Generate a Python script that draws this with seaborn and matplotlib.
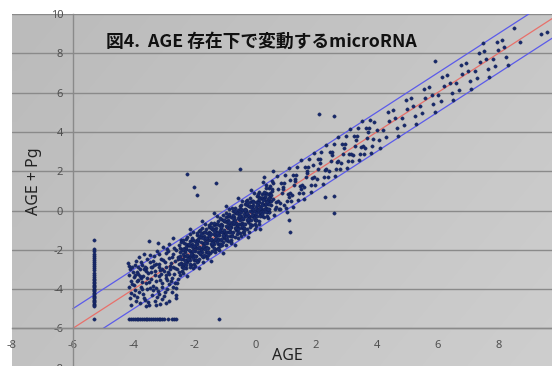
import numpy as np
import pandas as pd
import matplotlib
matplotlib.use("Agg")
import matplotlib.pyplot as plt
from matplotlib.colors import LinearSegmentedColormap
import seaborn as sns

# ---------------- data ----------------
title = "図4.  AGE 存在下で変動するmicroRNA"
x_label = "AGE"
y_label = "AGE + Pg"
x_ticks = [-8, -6, -4, -2, 0, 2, 4, 6, 8]
y_ticks = [-8, -6, -4, -2, 0, 2, 4, 6, 8, 10]

# reference lines (centre line and +/-1 band)
fit_x = [-6, 10]
fit_y = [-6, 10]
upper_x = [-6, 9]
upper_y = [-5, 10]
lower_x = [-5, 10]
lower_y = [-6, 9]

# left part of the cloud
left_x = [-4.18,-4.15,-4.12,-4.16,-4.1,-4.14,-4.08,-4.12,-4.1,-4.05,-4.0,-3.98,-3.95,-3.92,-3.9,-3.88,-3.85,-3.82,-3.8,-3.78,
          -3.75,-3.72,-3.7,-3.68,-3.65,-3.62,-3.6,-3.58,-3.55,-3.52,-3.5,-3.48,-3.45,-3.42,-3.4,-3.38,-3.35,-3.32,-3.3,-3.28,
          -3.25,-3.22,-3.2,-3.18,-3.15,-3.12,-3.1,-3.08,-3.05,-3.02,-3.0,-2.98,-2.95,-2.92,-2.9,-2.88,-2.85,-2.82,-2.8,-2.78,
          -2.75,-2.72,-2.7,-2.68,-2.65,-2.62,-2.6,-2.58,-2.55,-2.52,-2.5,-3.9,-3.6,-3.3,-3.0,-2.7,-3.75,-3.45,-3.15,-2.85,
          -2.55,-4.02,-3.72,-3.42,-3.12,-2.82,-2.52,-3.55,-3.25,-2.95,-2.65,-3.85,-3.15,-2.75,-3.05,-2.6,-3.95,-3.35,-2.9,-2.7,
          -3.65,-3.2,-2.9,
          -4.05,-3.97,-3.93,-3.87,-3.83,-3.77,-3.73,-3.67,-3.63,-3.57,-3.53,-3.47,-3.43,-3.37,-3.33,-3.27,-3.23,-3.17,-3.13,-3.07,
          -3.03,-2.97,-2.93,-2.87,-2.83,-2.77,-2.73,-2.67,-2.63,-2.57,-2.53,-3.5,-3.8,-3.1,-2.8,-4.0,-3.6,-3.25,-2.95,-2.6]
left_y = [-2.65,-2.8,-3.0,-3.3,-3.6,-3.9,-4.2,-4.45,-4.8,-2.9,-3.4,-3.8,-4.05,-2.55,-3.15,-4.4,-3.55,-2.35,-4.7,-3.0,
          -3.9,-2.75,-4.25,-3.35,-2.2,-4.55,-3.7,-2.95,-4.0,-3.2,-1.55,-4.8,-2.6,-3.5,-4.3,-2.9,-3.85,-2.3,-4.6,-3.1,
          -3.6,-2.05,-4.1,-2.7,-3.35,-4.75,-2.45,-3.9,-3.0,-1.85,-4.35,-2.6,-3.45,-2.15,-4.0,-3.15,-1.7,-4.6,-2.8,-3.6,
          -2.35,-3.9,-1.4,-3.25,-2.55,-4.3,-2.0,-3.0,-3.5,-1.75,-2.7,-3.6,-3.1,-3.3,-3.1,-2.9,-3.45,-3.95,-2.9,-2.4,
          -2.35,-3.15,-4.0,-2.85,-3.55,-3.25,-3.15,-2.45,-2.7,-2.85,-3.7,-2.9,-4.25,-4.15,-4.5,-3.95,-3.3,-2.55,-3.55,-2.2,
          -3.0,-1.65,-1.95,
          -3.75,-2.75,-4.6,-3.25,-4.15,-2.6,-3.65,-4.45,-2.85,-3.45,-4.65,-2.25,-3.15,-4.05,-2.75,-3.95,-4.4,-2.2,-3.05,-3.7,
          -2.5,-4.15,-3.3,-2.05,-3.75,-2.65,-3.45,-1.9,-2.95,-3.7,-2.45,-3.65,-3.35,-3.25,-3.0,-4.3,-4.85,-4.8,-4.7,-4.45]

# main body of the cloud
core_x = [-2.49,-2.43,-2.46,-2.41,-2.48,-2.42,-2.45, -2.39,-2.33,-2.36,-2.31,-2.38,-2.32,-2.35,
          -2.29,-2.23,-2.26,-2.21,-2.28,-2.22,-2.25, -2.19,-2.13,-2.16,-2.11,-2.18,-2.12,-2.15,
          -2.09,-2.03,-2.06,-2.01,-2.08,-2.02,-2.05, -1.99,-1.93,-1.96,-1.91,-1.98,-1.92,-1.95,
          -1.89,-1.83,-1.86,-1.81,-1.88,-1.82,-1.85, -1.79,-1.73,-1.76,-1.71,-1.78,-1.72,-1.75,
          -1.69,-1.63,-1.66,-1.61,-1.68,-1.62,-1.65, -1.59,-1.53,-1.56,-1.51,-1.58,-1.52,-1.55,
          -1.49,-1.43,-1.46,-1.41,-1.48,-1.42,-1.45, -1.39,-1.33,-1.36,-1.31,-1.38,-1.32,-1.35,
          -1.29,-1.23,-1.26,-1.21,-1.28,-1.22,-1.25, -1.19,-1.13,-1.16,-1.11,-1.18,-1.12,-1.15,
          -1.09,-1.03,-1.06,-1.01,-1.08,-1.02,-1.05, -0.99,-0.93,-0.96,-0.91,-0.98,-0.92,-0.95,
          -0.89,-0.83,-0.86,-0.81,-0.88,-0.82,-0.85, -0.79,-0.73,-0.76,-0.71,-0.78,-0.72,-0.75,
          -0.69,-0.63,-0.66,-0.61,-0.68,-0.62,-0.65, -0.59,-0.53,-0.56,-0.51,-0.58,-0.52,-0.55,
          -0.49,-0.43,-0.46,-0.41,-0.48,-0.42,-0.45, -0.39,-0.33,-0.36,-0.31,-0.38,-0.32,-0.35,
          -0.29,-0.23,-0.26,-0.21,-0.28,-0.22,-0.25, -0.19,-0.13,-0.16,-0.11,-0.18,-0.12,-0.15,
          -0.09,-0.03,-0.06,-0.01,-0.08,-0.02,-0.05, 0.01,0.07,0.04,0.09,0.02,0.08,0.05,
          0.11,0.17,0.14,0.19,0.12,0.18,0.15, 0.21,0.27,0.24,0.29,0.22,0.28,0.25,
          0.31,0.37,0.34,0.39,0.32,0.38,0.35, 0.41,0.47,0.44,0.49,0.42,0.48,0.45]
core_y = [-1.90,-2.65,-2.30,-3.10,-2.10,-2.90,-1.50, -2.45,-1.65,-2.90,-2.10,-3.20,-1.90,-2.30,
          -1.95,-2.60,-1.45,-2.30,-2.95,-1.75,-3.35, -2.40,-2.05,-1.55,-2.75,-1.75,-2.30,-0.95,
          -1.50,-2.25,-1.90,-2.70,-1.70,-2.50,-1.10, -2.05,-1.25,-2.50,-1.70,-2.80,-1.50,-1.90,
          -1.55,-2.20,-1.05,-1.90,-2.55,-1.35,-2.95, -2.00,-1.65,-1.15,-2.35,-1.35,-1.90,-0.55,
          -1.10,-1.85,-1.50,-2.30,-1.30,-2.10,-0.70, -1.65,-0.85,-2.10,-1.30,-2.40,-1.10,-1.50,
          -1.15,-1.80,-0.65,-1.50,-2.15,-0.95,-2.55, -1.60,-1.25,-0.75,-1.95,-0.95,-1.50,-0.15,
          -0.70,-1.45,-1.10,-1.90,-0.90,-1.70,-0.30, -1.25,-0.45,-1.70,-0.90,-2.00,-0.70,-1.10,
          -0.75,-1.40,-0.25,-1.10,-1.75,-0.55,-2.15, -1.20,-0.85,-0.35,-1.55,-0.55,-1.10,0.25,
          -0.30,-1.05,-0.70,-1.50,-0.50,-1.30,0.10, -0.85,-0.05,-1.30,-0.50,-1.60,-0.30,-0.70,
          -0.35,-1.00,0.15,-0.70,-1.35,-0.15,-1.75, -0.80,-0.45,0.05,-1.15,-0.15,-0.70,0.65,
          0.10,-0.65,-0.30,-1.10,-0.10,-0.90,0.50, -0.45,0.35,-0.90,-0.10,-1.20,0.10,-0.30,
          0.05,-0.60,0.55,-0.30,-0.95,0.25,-1.35, -0.40,-0.05,0.45,-0.75,0.25,-0.30,1.05,
          0.50,-0.25,0.10,-0.70,0.30,-0.50,0.90, -0.05,0.75,-0.50,0.30,-0.80,0.50,0.10,
          0.45,-0.20,0.95,0.10,-0.55,0.65,-0.95, 0.00,0.35,0.85,-0.35,0.65,0.10,1.45,
          0.90,0.15,0.50,-0.30,0.70,-0.10,1.30, 0.35,1.15,-0.10,0.70,-0.40,0.90,0.50]

# densest strip along the centre line
dense_x = [-2.37,-2.42,-2.39,-2.44,-2.36, -2.27,-2.32,-2.29,-2.34,-2.26, -2.17,-2.22,-2.19,-2.24,-2.16,
           -2.07,-2.12,-2.09,-2.14,-2.06, -1.97,-2.02,-1.99,-2.04,-1.96, -1.87,-1.92,-1.89,-1.94,-1.86,
           -1.77,-1.82,-1.79,-1.84,-1.76, -1.67,-1.72,-1.69,-1.74,-1.66, -1.57,-1.62,-1.59,-1.64,-1.56,
           -1.47,-1.52,-1.49,-1.54,-1.46, -1.37,-1.42,-1.39,-1.44,-1.36, -1.27,-1.32,-1.29,-1.34,-1.26,
           -1.17,-1.22,-1.19,-1.24,-1.16, -1.07,-1.12,-1.09,-1.14,-1.06, -0.97,-1.02,-0.99,-1.04,-0.96,
           -0.87,-0.92,-0.89,-0.94,-0.86, -0.77,-0.82,-0.79,-0.84,-0.76, -0.67,-0.72,-0.69,-0.74,-0.66,
           -0.57,-0.62,-0.59,-0.64,-0.56, -0.47,-0.52,-0.49,-0.54,-0.46, -0.37,-0.42,-0.39,-0.44,-0.36,
           -0.27,-0.32,-0.29,-0.34,-0.26, -0.17,-0.22,-0.19,-0.24,-0.16, -0.07,-0.12,-0.09,-0.14,-0.06,
           0.03,-0.02,0.01,-0.04,0.04, 0.13,0.08,0.11,0.06,0.14, 0.23,0.18,0.21,0.16,0.24,
           0.33,0.28,0.31,0.26,0.34, 0.43,0.38,0.41,0.36,0.44, 0.53,0.48,0.51,0.46,0.54]
dense_y = [-2.20,-2.70,-1.95,-2.45,-2.90, -2.50,-2.00,-2.30,-2.70,-1.70, -2.00,-2.50,-1.75,-2.25,-2.70,
           -2.30,-1.80,-2.10,-2.50,-1.50, -1.80,-2.30,-1.55,-2.05,-2.50, -2.10,-1.60,-1.90,-2.30,-1.30,
           -1.60,-2.10,-1.35,-1.85,-2.30, -1.90,-1.40,-1.70,-2.10,-1.10, -1.40,-1.90,-1.15,-1.65,-2.10,
           -1.70,-1.20,-1.50,-1.90,-0.90, -1.20,-1.70,-0.95,-1.45,-1.90, -1.50,-1.00,-1.30,-1.70,-0.70,
           -1.00,-1.50,-0.75,-1.25,-1.70, -1.30,-0.80,-1.10,-1.50,-0.50, -0.80,-1.30,-0.55,-1.05,-1.50,
           -1.10,-0.60,-0.90,-1.30,-0.30, -0.60,-1.10,-0.35,-0.85,-1.30, -0.90,-0.40,-0.70,-1.10,-0.10,
           -0.40,-0.90,-0.15,-0.65,-1.10, -0.70,-0.20,-0.50,-0.90,0.10, -0.20,-0.70,0.05,-0.45,-0.90,
           -0.50,0.00,-0.30,-0.70,0.30, 0.00,-0.50,0.25,-0.25,-0.70, -0.30,0.20,-0.10,-0.50,0.50,
           0.20,-0.30,0.45,-0.05,-0.50, -0.10,0.40,0.10,-0.30,0.70, 0.40,-0.10,0.65,0.15,-0.30,
           0.10,0.60,0.30,-0.10,0.90, 0.60,0.10,0.85,0.35,-0.10, 0.30,0.80,0.50,0.10,1.10]

# further scattered points in the main body
extra_x = [-2.43,-2.47,-2.41,-2.46, -2.33,-2.37,-2.31,-2.36, -2.23,-2.27,-2.21,-2.26, -2.13,-2.17,-2.11,-2.16,
           -2.03,-2.07,-2.01,-2.06, -1.93,-1.97,-1.91,-1.96, -1.83,-1.87,-1.81,-1.86, -1.73,-1.77,-1.71,-1.76,
           -1.63,-1.67,-1.61,-1.66, -1.53,-1.57,-1.51,-1.56, -1.43,-1.47,-1.41,-1.46, -1.33,-1.37,-1.31,-1.36,
           -1.23,-1.27,-1.21,-1.26, -1.13,-1.17,-1.11,-1.16, -1.03,-1.07,-1.01,-1.06, -0.93,-0.97,-0.91,-0.96,
           -0.83,-0.87,-0.81,-0.86, -0.73,-0.77,-0.71,-0.76, -0.63,-0.67,-0.61,-0.66, -0.53,-0.57,-0.51,-0.56,
           -0.43,-0.47,-0.41,-0.46, -0.33,-0.37,-0.31,-0.36, -0.23,-0.27,-0.21,-0.26, -0.13,-0.17,-0.11,-0.16,
           -0.03,-0.07,-0.01,-0.06, 0.07,0.03,0.09,0.04, 0.17,0.13,0.19,0.14, 0.27,0.23,0.29,0.24,
           0.37,0.33,0.39,0.34, 0.47,0.43,0.49,0.44]
extra_y = [-1.62,-3.28,-2.02,-2.71, -2.93,-1.48,-2.57,-1.96, -1.33,-2.77,-2.48,-1.87, -2.86,-1.68,-2.19,-1.21,
           -2.41,-1.38,-1.83,-2.92, -1.12,-2.33,-2.62,-1.72, -2.18,-1.46,-0.98,-2.47, -2.61,-1.22,-1.79,-0.88,
           -1.39,-2.26,-0.93,-1.97, -0.72,-1.91,-1.28,-2.27, -1.67,-0.84,-2.06,-1.19, -2.12,-0.62,-1.44,-1.03,
           -0.53,-1.58,-1.97,-1.14, -1.46,-0.36,-0.83,-1.81, -0.48,-1.62,-0.97,-1.27, -1.43,-0.13,-0.66,-1.78,
           -0.91,-0.19,-1.63,-0.57, -0.24,-1.17,-0.61,0.12, -0.87,-0.03,-1.22,-0.48, -0.27,-1.38,0.21,-0.93,
           -0.78,0.26,-0.36,-1.29, 0.02,-0.67,0.48,-1.04, -0.41,0.37,-1.08,-0.12, 0.18,-0.86,-0.22,0.63,
           -0.37,0.42,-0.94,0.07, 0.28,-0.47,0.86,-0.14, -0.29,0.58,0.22,-0.71, 0.53,-0.18,0.96,0.27,
           -0.07,0.72,0.41,1.12, 0.64,0.08,1.27,0.31]

# middle part of the band
mid_x = [0.54,0.65,0.58,0.68,0.52,0.62, 0.74,0.85,0.78,0.88,0.72,0.82, 0.94,1.05,0.98,1.08,0.92,1.02,
         1.14,1.25,1.18,1.28,1.12,1.22, 1.34,1.45,1.38,1.48,1.32,1.42, 1.54,1.65,1.58,1.68,1.52,1.62,
         1.74,1.85,1.78,1.88,1.72,1.82, 1.94,2.05,1.98,2.08,1.92,2.02, 2.14,2.25,2.18,2.28,2.12,2.22,
         2.34,2.45,2.38,2.48,2.32,2.42, 2.54,2.65,2.58,2.68,2.52,2.62, 2.74,2.85,2.78,2.88,2.72,2.82,
         2.94,3.05,2.98,3.08,2.92,3.02, 3.14,3.25,3.18,3.28,3.12,3.22, 3.34,3.45,3.38,3.48,3.32,3.42,
         3.54,3.65,3.58,3.68,3.52,3.62, 3.74,3.85,3.78,3.88,3.72,3.82,
         0.7,0.9,1.1,1.3,0.6,0.95,1.15,1.5,1.7,0.75,1.05,0.55,1.25,1.9,1.6]
mid_y = [1.00,0.10,1.40,0.45,0.80,-0.25, 0.50,1.40,0.10,0.90,1.75,0.40, 1.40,0.50,1.80,0.85,1.20,0.15,
         0.90,1.80,0.50,1.30,2.15,0.80, 1.80,0.90,2.20,1.25,1.60,0.55, 1.30,2.20,0.90,1.70,2.55,1.20,
         2.20,1.30,2.60,1.65,2.00,0.95, 1.70,2.60,1.30,2.10,2.95,1.60, 2.60,1.70,3.00,2.05,2.40,1.35,
         2.10,3.00,1.70,2.50,3.35,2.00, 3.00,2.10,3.40,2.45,2.80,1.75, 2.50,3.40,2.10,2.90,3.75,2.40,
         3.40,2.50,3.80,2.85,3.20,2.15, 2.90,3.80,2.50,3.30,4.15,2.80, 3.80,2.90,4.20,3.25,3.60,2.55,
         3.30,4.20,2.90,3.70,4.55,3.20, 4.20,3.30,4.60,3.65,4.00,2.95,
         0.2,1.1,0.7,1.5,0.6,0.3,1.55,1.1,1.9,1.1,-0.1,1.5,0.2,2.3,0.6]

# upper part of the band
upper_pts_x = [3.92,4.06,4.00,4.10, 4.22,4.36,4.30,4.40, 4.52,4.66,4.60,4.70, 4.82,4.96,4.90,5.00,
               5.12,5.26,5.20,5.30, 5.42,5.56,5.50,5.60, 5.72,5.86,5.80,5.90, 6.02,6.16,6.10,6.20,
               6.32,6.46,6.40,6.50, 6.62,6.76,6.70,6.80, 6.92,7.06,7.00,7.10, 7.22,7.36,7.30,7.40,
               7.52,7.66,7.60,7.70, 7.82,7.96,7.90,8.00, 8.12,8.26,8.20,8.30]
upper_pts_y = [4.50,3.60,4.10,3.20, 4.10,5.00,3.75,4.55, 5.10,4.20,4.70,3.80, 4.70,5.60,4.35,5.15,
               5.70,4.80,5.30,4.40, 5.30,6.20,4.95,5.75, 6.30,5.40,5.90,5.00, 5.90,6.80,5.55,6.35,
               6.90,6.00,6.50,5.60, 6.50,7.40,6.15,6.95, 7.50,6.60,7.10,6.20, 7.10,8.00,6.75,7.55,
               8.10,7.20,7.70,6.80, 7.70,8.60,7.35,8.15, 8.70,7.80,8.30,7.40]

# isolated points
outlier_x = [-2.24,-0.5,0.3,0.6,2.1,2.6,5.9,8.5,9.6,9.4,8.7,7.5,2.6,2.6,1.15,1.1,2.3,-1.18,-2.0,-1.9,-1.28,0.8]
outlier_y = [1.88,2.1,1.7,2.0,4.9,4.8,7.6,9.3,9.1,9.0,8.6,8.5,0.75,-0.15,-1.1,-0.5,0.7,-5.5,1.2,0.8,1.4,0.1]

# vertical column of points at AGE = -5.31
column_x = -5.31
column_y = [-1.5,-1.98,-2.08,-2.2,-2.3,-2.42,-2.52,-2.62,-2.73,-2.84,-2.95,-3.05,-3.16,-3.27,-3.38,
            -3.48,-3.56,-3.63,-3.7,-3.77,-3.84,-3.91,-3.98,-4.05,-4.12,-4.19,-4.26,-4.33,-4.4,-4.47,
            -4.54,-4.61,-4.68,-4.75,-4.82,-4.88,-5.5]

# horizontal row of points at AGE + Pg = -5.5
row_y = -5.5
row_x = [-4.15,-4.08,-4.02,-3.96,-3.9,-3.84,-3.78,-3.72,-3.66,-3.6,-3.55,-3.48,-3.42,-3.37,-3.3,
         -3.24,-3.18,-3.12,-3.06,-3.0,-2.86,-2.75,-2.68,-2.62]

# ---------------- assemble ----------------
pts = pd.concat([
    pd.DataFrame({"AGE": left_x, "AGEPg": left_y}),
    pd.DataFrame({"AGE": core_x, "AGEPg": core_y}),
    pd.DataFrame({"AGE": dense_x, "AGEPg": dense_y}),
    pd.DataFrame({"AGE": extra_x, "AGEPg": extra_y}),
    pd.DataFrame({"AGE": mid_x, "AGEPg": mid_y}),
    pd.DataFrame({"AGE": upper_pts_x, "AGEPg": upper_pts_y}),
    pd.DataFrame({"AGE": outlier_x, "AGEPg": outlier_y}),
    pd.DataFrame({"AGE": [column_x] * len(column_y), "AGEPg": column_y}),
    pd.DataFrame({"AGE": row_x, "AGEPg": [row_y] * len(row_x)}),
], ignore_index=True)

sns.set_style("white")
plt.rcParams['font.family'] = ['Noto Sans', 'Noto Sans CJK JP', 'DejaVu Sans']
plt.rcParams['axes.unicode_minus'] = False

W, H = 552, 366
fig = plt.figure(figsize=(W / 100, H / 100), dpi=100)
fig.patch.set_facecolor("white")
ax = fig.add_axes([12 / W, 1 - 367.7 / H, 547.2 / W, 353.7 / H])

# plot-area gradient (Excel style)
cmap = LinearSegmentedColormap.from_list("bg", ["#bbbbbb", "#cecece"])
yy, xx = np.mgrid[0:1:60j, 0:1:60j]
ax.imshow(0.65 * xx + 0.35 * yy, extent=(-8, 10, -8, 10), origin="upper",
          aspect="auto", cmap=cmap, zorder=0, interpolation="bilinear")

ax.set_xlim(-8, 10)
ax.set_ylim(-8, 10)
ax.set_xticks(x_ticks)
ax.set_yticks(y_ticks)
ax.set_xticklabels([str(v) for v in x_ticks])
ax.set_yticklabels([str(v) for v in y_ticks])

ax.yaxis.grid(True, color="#8a8a8a", lw=1.0, zorder=0.5)
ax.xaxis.grid(False)
ax.set_axisbelow(True)

for s in ["top", "right"]:
    ax.spines[s].set_visible(False)
ax.spines["left"].set_position(("data", -6))
ax.spines["bottom"].set_position(("data", -6))
ax.spines["left"].set_color("#8a8a8a")
ax.spines["bottom"].set_color("#8a8a8a")
ax.spines["left"].set_linewidth(1.0)
ax.spines["bottom"].set_linewidth(1.0)

ax.tick_params(axis="x", length=2.5, color="#8a8a8a", labelcolor="#505050",
               labelsize=8, pad=5.5, direction="out")
ax.tick_params(axis="y", length=0, labelcolor="#505050", labelsize=8, pad=7)

# reference lines
sns.lineplot(x=upper_x, y=upper_y, color="#5b5bea", lw=0.9, ax=ax, zorder=2)
sns.lineplot(x=lower_x, y=lower_y, color="#5b5bea", lw=0.9, ax=ax, zorder=2)
sns.lineplot(x=fit_x, y=fit_y, color="#e8706a", lw=0.9, ax=ax, zorder=2)

# scatter
sns.scatterplot(data=pts, x="AGE", y="AGEPg", marker="o", s=6, color="#17296a",
                edgecolor="#0d1b4d", linewidth=0.2, ax=ax, zorder=3)

ax.set_xlabel("")
ax.set_ylabel("")

fig.text(106 / W, 1 - 42 / H, title, ha="left", va="center", fontsize=12.8,
         fontweight="bold", color="#111111", family=["Noto Sans CJK JP", "DejaVu Sans"])
fig.text(34 / W, 1 - 181 / H, y_label, ha="center", va="center", rotation=90,
         fontsize=11.5, color="#222222")
fig.text(287 / W, 1 - 356 / H, x_label, ha="center", va="center",
         fontsize=11.5, color="#222222")

fig.savefig("out.png", dpi=100, facecolor="white")
